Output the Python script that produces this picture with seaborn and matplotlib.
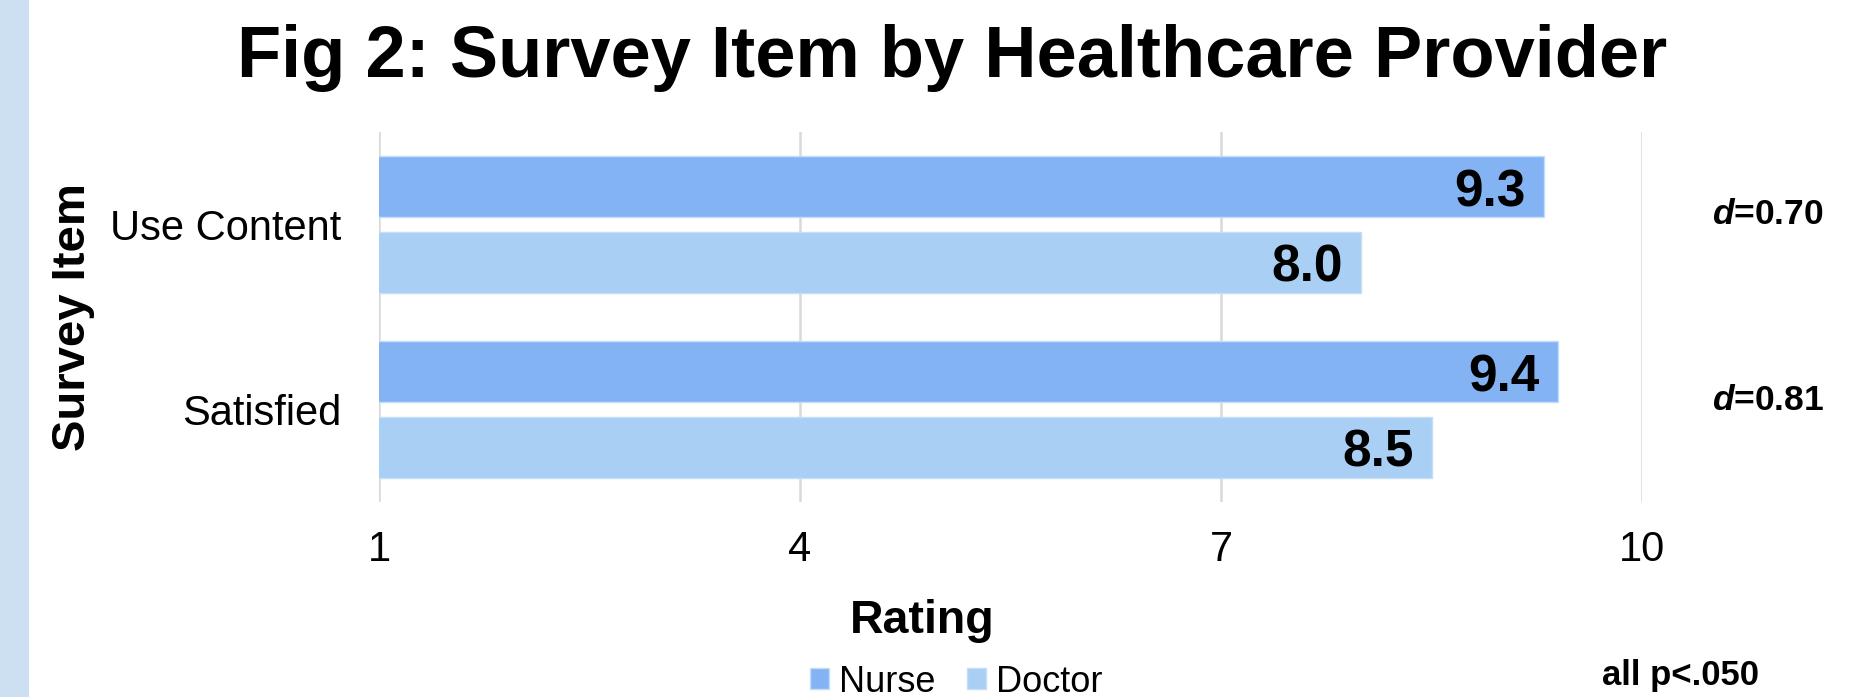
import matplotlib
matplotlib.use("Agg")
import matplotlib.pyplot as plt
from matplotlib.patches import Rectangle
import seaborn as sns
import pandas as pd

# ---- data ----
items = ["Use Content", "Satisfied"]
providers = ["Nurse", "Doctor"]
nurse_ratings = [9.3, 9.4]
doctor_ratings = [8.0, 8.5]
effect_labels = ["0.70", "0.81"]
x_ticks = [1, 4, 7, 10]
title = "Fig 2: Survey Item by Healthcare Provider"
note = "all p<.050"

colors = {"Nurse": "#84B3F4", "Doctor": "#AACFF4"}

rows = []
for i, it in enumerate(items):
    rows.append({"item": it, "provider": "Nurse", "rating": nurse_ratings[i]})
    rows.append({"item": it, "provider": "Doctor", "rating": doctor_ratings[i]})
df = pd.DataFrame(rows)

sns.set_style("white")
FONT = "Liberation Sans"
plt.rcParams["font.family"] = [FONT, "DejaVu Sans"]
plt.rcParams["mathtext.fontset"] = "custom"
plt.rcParams["mathtext.it"] = f"{FONT}:italic:bold"
plt.rcParams["mathtext.rm"] = f"{FONT}:bold"
plt.rcParams["text.color"] = "black"
plt.rcParams["xtick.color"] = "black"
plt.rcParams["ytick.color"] = "black"
plt.rcParams["axes.labelcolor"] = "black"

W, H = 1873, 697
fig = plt.figure(figsize=(W / 100, H / 100), dpi=100)
fig.patch.set_facecolor("white")

# left decorative strip
fig.patches.append(Rectangle((0, 0), 29 / W, 1, transform=fig.transFigure,
                             facecolor="#CCE0F2", edgecolor="none", zorder=0))

ax = fig.add_axes([379 / W, 1 - 502 / H, (1642 - 379) / W, (502 - 132) / H])
sns.barplot(data=df, y="item", x="rating", hue="provider", order=items,
            hue_order=providers, palette=colors, orient="h", width=0.82,
            gap=0.195, errorbar=None, ax=ax, edgecolor="#C4DDF8",
            linewidth=1.0, saturation=1, legend=True)

ax.set_xlim(1, 10)
ax.set_ylim(1.5, -0.5)
ax.set_xticks(x_ticks)
ax.set_xticklabels([str(t) for t in x_ticks])
ax.set_axisbelow(True)
ax.xaxis.grid(True, color="#D9D9D9", linewidth=1.8)
ax.yaxis.grid(False)
for s in ax.spines.values():
    s.set_visible(False)
ax.tick_params(axis="x", length=0, labelsize=30, pad=20, labelcolor="black")
ax.tick_params(axis="y", length=0, labelsize=30, pad=27, labelcolor="black")
ax.set_xlabel("")
ax.set_ylabel("")

for cont in ax.containers:
    texts = ax.bar_label(cont, fmt="%.1f", padding=-13, fontsize=37,
                         fontweight="bold", color="black")
    for t in texts:
        t.set_ha("right")
        t.xyann = (t.xyann[0], t.xyann[1] - 4.3)

# effect sizes
for i, d in enumerate(effect_labels):
    ax.text(10.9, i, r"$d$=" + d, fontsize=25.5, fontweight="bold",
            color="black", ha="center", va="baseline", clip_on=False)

# legend
handles, labels = ax.get_legend_handles_labels()
ax.get_legend().remove()
leg = fig.legend(handles, labels, loc="center left",
                 bbox_to_anchor=(810 / W, (H - 682) / H), ncol=2,
                 frameon=False, fontsize=26, handlelength=0.53,
                 handleheight=0.53, handletextpad=0.28, columnspacing=0.86,
                 borderpad=0, borderaxespad=0)
for t in leg.get_texts():
    t.set_color("black")

fig.text(952 / W, 1 - 77 / H, title, fontsize=52.0, fontweight="bold",
         color="black", ha="center", va="baseline")
fig.text(73 / W, 1 - 317 / H, "Survey Item", fontsize=34, fontweight="bold",
         color="black", rotation=90, ha="center", va="center")
fig.text(922 / W, 1 - 633 / H, "Rating", fontsize=33.5, fontweight="bold",
         color="black", ha="center", va="baseline")
fig.text(1680 / W, 1 - 685 / H, note, fontsize=25, fontweight="bold",
         color="black", ha="center", va="baseline")

fig.savefig("out.png", dpi=100)
